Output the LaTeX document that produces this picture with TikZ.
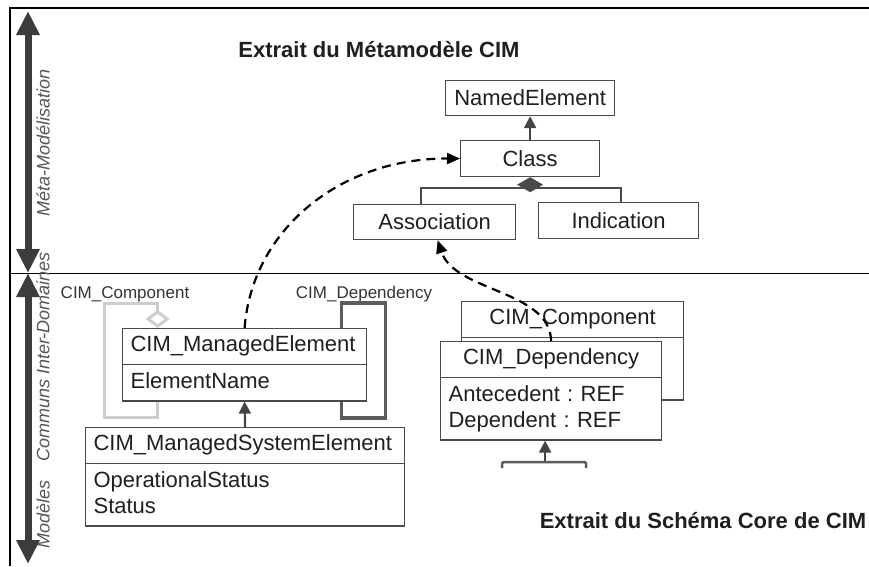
\documentclass[tikz,border=0pt]{standalone}
\usepackage{fontspec}
\setmainfont{Liberation Sans}
\usetikzlibrary{arrows.meta,shapes.multipart}
\definecolor{boxgray}{HTML}{4A4A4A}
\definecolor{arrgray}{HTML}{454545}
\definecolor{biggray}{HTML}{3C3C3C}
\definecolor{sidegray}{HTML}{555555}
\definecolor{compgray}{HTML}{CDCDCD}
\definecolor{depgray}{HTML}{5C5C5C}
\newcommand{\boxfont}{\fontsize{22}{26}\selectfont\frenchspacing}
\newcommand{\labfont}{\fontsize{17}{20}\selectfont}
\newcommand{\titlefont}{\fontsize{22}{26}\selectfont\bfseries}
\newcommand{\sidefont}{\fontsize{18}{21}\selectfont\itshape}
\begin{document}
\begin{tikzpicture}[x=1pt,y=-1pt,line join=miter,text=black!88]
	\tikzset{
		box/.style={draw=boxgray,line width=1.2pt,fill=white,inner sep=0pt,font=\boxfont,anchor=north west},
		umlclass/.style={rectangle split,rectangle split parts=2,draw=boxgray,line width=1.2pt,fill=white,
			inner xsep=8pt,inner ysep=4.5pt,text width=#1,align=left,font=\boxfont,anchor=north west},
		gen/.style={draw=arrgray,line width=2.2pt,-{Triangle[width=12pt,length=12pt]}},
		link/.style={draw=black,line width=2.2pt,dash pattern=on 9pt off 6pt,-{Triangle[width=11pt,length=13pt]}},
		bigarrow/.style={draw=biggray,line width=7pt,{Triangle[width=22pt,length=24pt]}-{Triangle[width=22pt,length=24pt]}},
		sidetext/.style={rotate=90,text=sidegray,font=\sidefont,inner sep=0pt},
		selflabel/.style={font=\labfont,text=black!80,inner sep=0pt}
	}
	\useasboundingbox (0,0) rectangle (869,566);
	\draw[line width=1.5pt] (10,566) -- (10,8) -- (869,8);
	\draw[line width=1pt] (11,273) -- (869,273);
	\draw[bigarrow] (28,11) -- (28,273);
	\draw[bigarrow] (28,273) -- (28,564);
	\node[sidetext] (meta) at (43,143) {Méta-Modélisation};
	\node[sidetext] (communs) at (43,357) {Communs Inter-Domaines};
	\node[sidetext] (modeles) at (43,514) {Modèles};
	\node[font=\titlefont,inner sep=0pt] (title1) at (379,50) {Extrait du Métamodèle CIM};
	\node[font=\titlefont,inner sep=0pt] (title2) at (703,521) {Extrait du Schéma Core de CIM};
	\node[box,minimum width=169pt,minimum height=35pt] (named) at (445,80) {NamedElement};
	\node[box,minimum width=139pt,minimum height=36pt] (class) at (460,140) {Class};
	\node[box,minimum width=162pt,minimum height=35pt] (assoc) at (353,204) {Association};
	\node[box,minimum width=160pt,minimum height=36pt] (indic) at (538,202) {Indication};
	\draw[gen] (class.north) -- (named.south);
	\coordinate (fork) at (class.south |- 0,188);
	\draw[draw=boxgray,line width=2pt] ([xshift=-14pt]assoc.north) |- (fork) -| ([xshift=2pt]indic.north);
	\draw[draw=boxgray,line width=2pt,-{Diamond[width=26pt,length=15pt]}] (fork) -- (class.south);
	\node[umlclass=228pt] (mgdelt) at (122,328) {\strut CIM\_ManagedElement \nodepart{second} \strut ElementName};
	\node[umlclass=303pt] (mgdsys) at (85,427) {\strut CIM\_ManagedSystemElement \nodepart{second} \strut OperationalStatus\\\strut Status};
	\node[umlclass=206pt] (comp) at (461,301) {\centering\strut CIM\_Component\par \nodepart{second} \strut\\\strut};
	\node[umlclass=205pt] (dep) at (440,341) {\centering\strut CIM\_Dependency\par \nodepart{second} \strut Antecedent : REF\\\strut Dependent : REF};
	\node[selflabel] (complab) at (125,294) {CIM\_Component};
	\node[selflabel] (deplab) at (364,294) {CIM\_Dependency};
	\draw[draw=compgray,line width=3pt,{Diamond[open,width=24pt,length=18pt]}-] ([xshift=-87pt]mgdelt.north) -- ++(0,-25) -| ++(-53,114) -| ([xshift=-87pt]mgdelt.south);
	\draw[draw=depgray,line width=3.5pt] ([xshift=97pt]mgdelt.north) -- ++(0,-25) -| ++(44,115) -| ([xshift=97pt]mgdelt.south);
	\draw[gen] (mgdsys.north) -- (mgdelt.south);
	\coordinate (bar) at ([xshift=-6pt]dep.south |- 0,462);
	\draw[gen] (bar) -- (bar |- dep.south);
	\draw[draw=depgray,line width=2.5pt,rounded corners=2pt] ([shift={(-43,6)}]bar) |- ([xshift=41pt]bar) -- ++(0,6);
	\draw[link] (mgdelt.north) .. controls (252,230) and (340,158) .. (class.west);
	\draw[link] (dep.north) .. controls (550,290) and (455,292) .. ([xshift=3pt]assoc.south);
\end{tikzpicture}
\end{document}
